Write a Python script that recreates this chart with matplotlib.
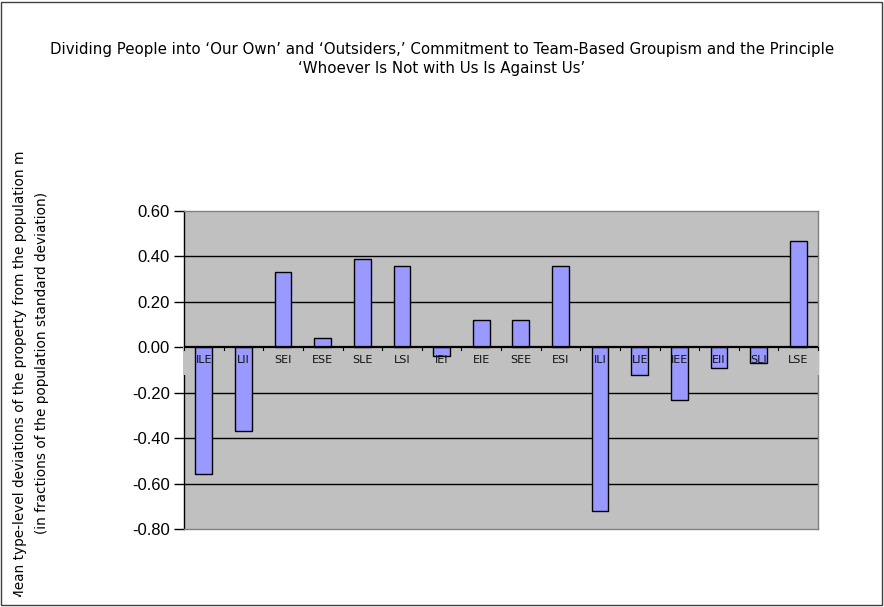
import matplotlib
matplotlib.use("Agg")
import matplotlib.pyplot as plt
import numpy as np
from matplotlib.patches import Rectangle
from matplotlib.transforms import Bbox

categories = ["ILE", "LII", "SEI", "ESE", "SLE", "LSI", "IEI", "EIE",
              "SEE", "ESI", "ILI", "LIE", "IEE", "EII", "SLI", "LSE"]
values = [-0.56, -0.37, 0.33, 0.04, 0.39, 0.36, -0.04, 0.12,
          0.12, 0.36, -0.72, -0.12, -0.23, -0.09, -0.07, 0.47]
yticks = [0.60, 0.40, 0.20, 0.00, -0.20, -0.40, -0.60, -0.80]

title = ("Dividing People into \u2018Our Own\u2019 and \u2018Outsiders,\u2019 Commitment to Team-Based Groupism and the Principle\n"
         "\u2018Whoever Is Not with Us Is Against Us\u2019")
ylabel = ("Mean type-level deviations of the property from the population mean\n"
          "(in fractions of the population standard deviation)")

W, H = 884, 607
fig = plt.figure(figsize=(W / 100, H / 100), dpi=100)
fig.patch.set_facecolor("white")

ax = fig.add_axes([184 / W, 1 - 529 / H, 634 / W, 318 / H])
ax.set_facecolor("#c0c0c0")
n = len(categories)
x = np.arange(n)
ax.set_xlim(-0.5, n - 0.5)
ax.set_ylim(-0.8, 0.6)

# gridlines
for t in yticks:
    if t not in (0.0, 0.6, -0.8):
        ax.axhline(t, color="black", lw=1.0, zorder=1)

# label band behind the bars
band = Rectangle((-0.002, 0.8 / 1.4 - 0.123 / 1.4), 1.004, 0.123 / 1.4,
                 transform=ax.transAxes, facecolor="#c0c0c0", edgecolor="none",
                 clip_on=False, zorder=2.6)
ax.add_patch(band)

ax.bar(x, values, width=0.42, color="#9999ff", edgecolor="black", lw=1.0, zorder=3)
ax.axhline(0, color="black", lw=1.6, zorder=4)

# small ticks on the zero line at category boundaries
for b in np.arange(n + 1) - 0.5:
    ax.plot([b, b], [0, -0.012], color="black", lw=0.8, zorder=4, clip_on=False)

for xi, c in zip(x, categories):
    ax.text(xi, -0.055, c, ha="center", va="center", fontsize=8,
            family="DejaVu Sans", color="#111111", zorder=5)

ax.set_xticks([])
ax.set_yticks(yticks)
ax.set_yticklabels([f"{t:.2f}" for t in yticks], family="Liberation Sans", fontsize=12)
ax.tick_params(axis="y", direction="out", length=7, width=1, color="black", pad=3)

for s in ("top", "right", "bottom"):
    ax.spines[s].set_color("#808080")
    ax.spines[s].set_linewidth(1.0)
ax.spines["left"].set_color("black")
ax.spines["left"].set_linewidth(1.0)

fig.text(442 / W, 1 - 59 / H, title, ha="center", va="center", fontsize=10.8,
         family="DejaVu Sans", linespacing=1.4)

yl = fig.text(31 / W, 1 - 363 / H, ylabel, ha="center", va="center", rotation=90,
              fontsize=9.8, family="DejaVu Sans", linespacing=1.75, multialignment="center")
yl.set_clip_box(Bbox.from_extents(0, H - 597, 60, H - 152))
yl.set_clip_on(True)

# outer border
fig.patches.append(Rectangle((1 / W, 2 / H), (W - 3) / W, (H - 4) / H,
                             transform=fig.transFigure, fill=False,
                             edgecolor="#404040", lw=1.0))

fig.savefig("out.png", dpi=100)
